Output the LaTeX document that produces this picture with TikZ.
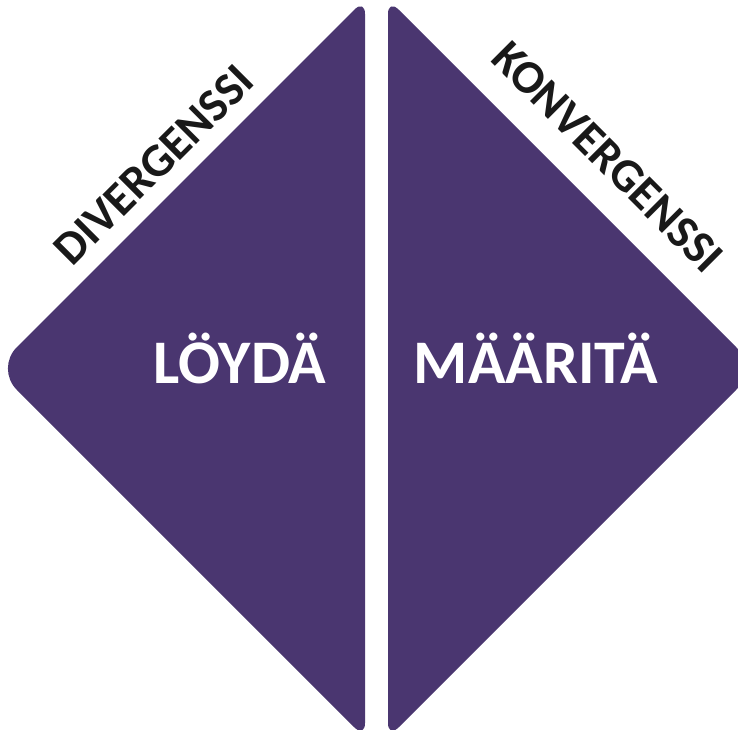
\documentclass[tikz,border=0pt]{standalone}
\usepackage{fontspec}
\setmainfont{Carlito}
\usepackage{tikz}
\usetikzlibrary{calc}
\definecolor{diapurple}{RGB}{74,54,112}

\begin{document}
\begin{tikzpicture}[x=1pt, y=1pt]
\tikzstyle{half}=[fill=diapurple]
\tikzstyle{big}=[text=white, inner sep=0pt, anchor=base, font=\fontsize{62}{74}\selectfont\bfseries]
\tikzstyle{side}=[text=black!90, inner sep=0pt, font=\fontsize{47}{56}\selectfont\bfseries]
\useasboundingbox (0,0) rectangle (738,729);
\clip (0,0) rectangle (738,729);

% left half
\coordinate (ltop) at (365,730);
\coordinate (lapex) at (-4.5,360.5);
\coordinate (lbot) at (365,-9);
\fill[half] (365,360) [rounded corners=15pt] -- (ltop) -- ($(ltop)!.5!(lapex)$)
  [rounded corners=30pt] -- (lapex) -- ($(lapex)!.5!(lbot)$)
  [rounded corners=15pt] -- (lbot) -- cycle;

% right half
\coordinate (rtop) at (388,730);
\coordinate (rapex) at (757.5,360.5);
\coordinate (rbot) at (388,-9);
\fill[half] (388,360) [rounded corners=15pt] -- (rtop) -- ($(rtop)!.5!(rapex)$)
  [rounded corners=30pt] -- (rapex) -- ($(rapex)!.5!(rbot)$)
  [rounded corners=15pt] -- (rbot) -- cycle;

\node[big] (loyda) at (240,346) {LÖYDÄ};
\node[big] (maarita) at (536,346) {MÄÄRITÄ};
\node[side, rotate=45] (diverg) at (154,564) {DIVERGENSSI};
\node[side, rotate=-45] (konverg) at (608,572) {KONVERGENSSI};
\end{tikzpicture}
\end{document}
